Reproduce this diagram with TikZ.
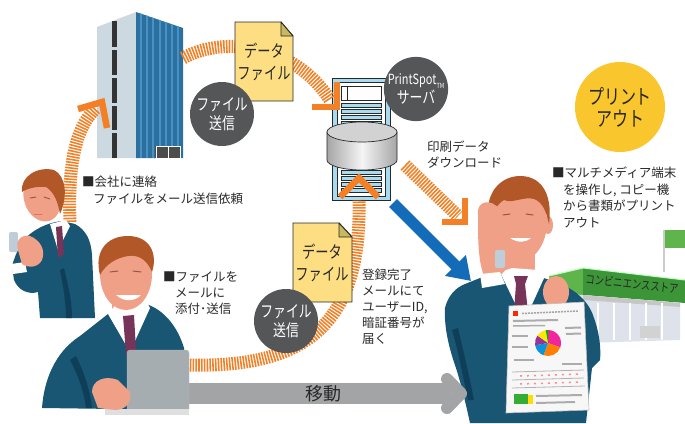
\documentclass[tikz,border=0pt]{standalone}
\usepackage{fontspec}
\newfontfamily\jp{Noto Sans CJK JP}
\newfontfamily\jpn[FakeStretch=0.78]{Noto Sans CJK JP}
\usetikzlibrary{arrows.meta}

\definecolor{orng}{RGB}{243,128,38}
\definecolor{ink}{RGB}{40,40,40}
\definecolor{bubgray}{RGB}{85,86,88}
\definecolor{sun}{RGB}{250,198,46}
\definecolor{docy}{RGB}{253,222,130}
\definecolor{fold}{RGB}{200,185,95}
\definecolor{bluearr}{RGB}{20,108,185}
\definecolor{grayarr}{RGB}{163,164,166}
\definecolor{suit}{RGB}{24,86,116}
\definecolor{suitdk}{RGB}{15,62,88}
\definecolor{skin}{RGB}{240,160,135}
\definecolor{skindk}{RGB}{215,120,95}
\definecolor{hair}{RGB}{178,88,40}
\definecolor{tie}{RGB}{118,52,88}
\definecolor{bldblue}{RGB}{44,112,160}
\definecolor{bldblue2}{RGB}{72,145,195}
\definecolor{bldlight}{RGB}{205,217,225}
\definecolor{rackblue}{RGB}{168,218,240}
\definecolor{storegreen}{RGB}{60,150,55}
\definecolor{storegreen2}{RGB}{95,180,75}
\definecolor{wall}{RGB}{222,226,234}
\definecolor{laptop}{RGB}{166,173,177}
\definecolor{phone}{RGB}{190,205,215}

\begin{document}
\begin{tikzpicture}[x=1pt,y=-1pt,
  stripe/.style={draw=orng, line width=13pt, dash pattern=on 1.6pt off 1.2pt},
  chev/.style={draw=orng, line width=6.5pt, line join=miter},
  note/.style={font=\jp\fontsize{12.5}{16}\selectfont, text=ink, align=left, inner sep=0pt, anchor=north west},
  bubble/.style={circle, fill=bubgray, text=white, minimum size=64pt, inner sep=0pt, align=center, font=\jpn\fontsize{16.5}{19}\selectfont},
  doclabel/.style={align=center, text=ink, inner sep=0pt, font=\jpn\fontsize{17}{22}\selectfont},
  docsheet/.style={fill=docy, draw=ink, line width=0.9pt, line join=miter},
  docfold/.style={fill=fold, draw=ink, line width=0.9pt, line join=round},
  rackbar/.style={fill=rackblue, draw=ink, line width=0.5pt},
  paperline/.style={draw=gray!65, line width=2pt},
]
\useasboundingbox (0,0) rectangle (685,423);

% ---------- convenience store ----------
\fill[storegreen2] (549,276) -- (583,268) -- (583,295) -- (552,293) -- cycle;
\fill[storegreen] (583,268) -- (685,280) -- (685,303) -- (583,295) -- cycle;
\draw[green!25!white, line width=1pt] (549,276) -- (583,268) -- (685,280);
\fill[wall] (552,293) -- (583,295) -- (680,303) -- (680,340) -- (552,344) -- cycle;
\fill[gray!45] (583,295) -- (680,303) -- (680,307) -- (583,300) -- cycle;
\foreach \wx in {598,614,630,646,662}
  \draw[white, line width=1.3pt] (\wx,303) -- (\wx,340);
\fill[gray!35] (640,326) rectangle (660,338);
\draw[gray!40, line width=2pt] (664,272) -- (664,230);
\fill[storegreen2] (665,229) rectangle (685,248);
\draw[white, line width=1pt] (665,229) -- (685,229);
\node[rotate=-6, font=\jpn\fontsize{12}{12}\selectfont, text=ink, inner sep=0pt] (storename) at (632,284) {コンビニエンスストア};

% ---------- man with the printout ----------
\fill[suit] (445,308) .. controls (448,296) and (455,288) .. (465,284) -- (480,278) -- (497,274) -- (512,272) -- (537,276) -- (550,280)
  .. controls (570,286) and (588,298) .. (594,318) .. controls (600,335) and (601,350) .. (600,360) -- (592,368) -- (586,423) -- (470,423)
  .. controls (465,400) and (460,380) .. (455,365) .. controls (448,345) and (444,325) .. (445,308) -- cycle;
\fill[suitdk] (452,330) .. controls (458,350) and (462,372) .. (468,400) -- (474,400) .. controls (468,370) and (462,345) .. (458,328) -- cycle;
\fill[skin] (505,250) rectangle (535,276);
\fill[white] (500,272) -- (512,268) -- (538,270) -- (545,276) -- (524,322) -- cycle;
\fill[tie] (514,276) -- (528,276) -- (525,284) -- (528,312) -- (514,312) -- (516,284) -- cycle;
\fill[skin] (548,225) ellipse [x radius=5pt, y radius=9pt];
\fill[skin] (518,222) ellipse [x radius=29pt, y radius=40pt];
\fill[hair] (490,224) .. controls (483,200) and (495,178) .. (518,176) .. controls (540,175) and (553,192) .. (549,224)
  .. controls (546,210) and (542,202) .. (534,199) .. controls (524,196) and (512,204) .. (504,200) .. controls (497,204) and (493,212) .. (490,224) -- cycle;
\draw[skindk!70!black, line width=1pt, line cap=round] (503,215) -- (510,214) (526,214) -- (533,215);
\fill[white] (510,238) .. controls (518,243) and (525,243) .. (531,238) -- cycle;
\fill[phone, rounded corners=2pt] (480,212) rectangle (489,234);
\fill[skin] (478,215) .. controls (476,200) and (492,198) .. (500,210) -- (508,240) .. controls (512,258) and (508,272) .. (498,276)
  -- (484,276) .. controls (478,260) and (478,240) .. (478,215) -- cycle;
\fill[phone, rounded corners=2pt] (495,250) rectangle (505,268);
\fill[white] (480,274) -- (500,272) -- (505,284) -- (482,288) -- cycle;
\fill[skin] (556,292) ellipse [x radius=13pt, y radius=16pt];
% printout sheet
\filldraw[fill=gray!6, draw=gray!50, line width=0.6pt] (509,306) -- (584,302) -- (589,410) -- (506,413) -- cycle;
\fill[red!70!orange] (513,311) rectangle (518,316);
\draw[gray!70, line width=1.5pt, dash pattern=on 2pt off 1pt] (522,313.5) -- (578,311);
\draw[paperline] (513,321) -- (558,320);
\draw[paperline, line width=1.5pt] (513,326) -- (545,325.5);
\draw[paperline] (512,336) -- (528,336) (512,347) -- (528,347);
\fill[magenta!85] (548,343) -- ++(90:13pt) arc[start angle=90, end angle=-20, radius=13pt] -- cycle;
\fill[orange] (548,343) -- ++(-20:13pt) arc[start angle=-20, end angle=-110, radius=13pt] -- cycle;
\fill[cyan!80!blue] (548,343) -- ++(-110:13pt) arc[start angle=-110, end angle=-170, radius=13pt] -- cycle;
\fill[violet!80] (548,343) -- ++(-170:13pt) arc[start angle=-170, end angle=-215, radius=13pt] -- cycle;
\fill[yellow!90!orange] (548,343) -- ++(-215:13pt) arc[start angle=-215, end angle=-260, radius=13pt] -- cycle;
\fill[green!70!black] (548,343) -- ++(-260:13pt) arc[start angle=-260, end angle=-270, radius=13pt] -- cycle;
\draw[paperline] (565,328) -- (581,327.5) (566,334) -- (581,333.5);
\draw[paperline] (514,360) -- (534,360) (562,364) -- (582,364);
\draw[gray!60, line width=0.8pt] (512,372) -- (584,370) (512,380) -- (584,378) (512,388) -- (585,386);
\draw[red!45, line width=1.5pt, dash pattern=on 2pt off 5pt] (520,376) -- (582,374) (520,384) -- (582,382);
\fill[green!60!black!80] (514,394) rectangle (528,404);
\fill[yellow!80!orange] (528,395) rectangle (533,404);
\draw[paperline] (536,396) -- (582,395) (536,403) -- (575,402);

% ---------- office building ----------
\fill[bldlight] (97,27) -- (136,12) -- (136,158) -- (97,158) -- cycle;
\fill[bldblue] (136,12) -- (183,28) -- (183,158) -- (136,158) -- cycle;
\begin{scope}
  \clip (136,12) -- (183,28) -- (183,158) -- (136,158) -- cycle;
  \foreach \bx in {141,147,153,160,166,172,178}
    \draw[bldblue2, line width=1.3pt] (\bx,0) -- (\bx,158);
\end{scope}
\foreach \ya/\yb in {21/47,50/75,78/103,106/130,133/158}
  \fill[black!80] (112,\ya) rectangle (117,\yb);
\fill[black!70] (155,146) rectangle (181,158);
\draw[white, line width=1pt] (156,146) rectangle (168,158) (168,146) rectangle (180,158);

% ---------- print server ----------
\path[fill=rackblue, draw=ink, line width=0.8pt] (332,78) rectangle (390,200);
\path[fill=white, draw=ink, line width=0.6pt] (337,82) rectangle (385,196);
\draw[ink, line width=0.5pt] (341,86) rectangle (381,100) (347,86) -- (347,100);
\foreach \ry in {103,109,115,121}
  \path[rackbar] (341,\ry) rectangle (381,\ry+4);
\foreach \ry in {170,176,182,188}
  \path[rackbar] (341,\ry) rectangle (381,\ry+4);
\path[left color=gray!70, right color=gray!70, middle color=gray!8, draw=ink, line width=0.7pt]
  (327,132) -- (327,160) arc[start angle=180, end angle=360, x radius=35pt, y radius=10pt] -- (397,132) -- cycle;
\path[fill=gray!35, draw=ink, line width=0.7pt] (362,132) ellipse [x radius=35pt, y radius=10pt];

% ---------- striped transfer paths ----------
\coordinate (callStart) at (70,222);
\coordinate (bldgIn) at (96,108);
\coordinate (bldgOut) at (183,58);
\coordinate (srvIn) at (330,100);
\coordinate (pcOut) at (187,365);
\coordinate (srvUp) at (359,200);
\coordinate (srvDown) at (405,165);
\coordinate (userIn) at (458,216);

\draw[stripe] (callStart) .. controls (68,165) and (75,128) .. (bldgIn);
\draw[stripe] (bldgOut) .. controls (225,35) and (295,45) .. (srvIn);
\draw[stripe] (pcOut) .. controls (300,368) and (362,330) .. (srvUp);
\draw[stripe] (srvDown) -- (userIn);

\draw[chev] (78,109) -- (102,102) -- (107,128);
\draw[chev] (312,107) -- (337,107) -- (337,82);
\draw[chev] (340,197) -- (359,178) -- (378,197);
\draw[chev] (442,222) -- (465,222) -- (465,198);

% ---------- data files ----------
\path[docsheet] (235,22) -- (281,22) -- (293,36) -- (293,101) -- (235,101) -- cycle;
\path[docfold] (281,22) -- (293,36) -- (281,36) -- cycle;
\node[doclabel] (doc1) at (264,62) {データ\\ファイル};

\path[docsheet] (293,223) -- (339,223) -- (352,237) -- (352,302) -- (293,302) -- cycle;
\path[docfold] (339,223) -- (352,237) -- (339,237) -- cycle;
\node[doclabel] (doc2) at (322,263) {データ\\ファイル};

% ---------- round labels ----------
\node[bubble] (send1) at (222,114) {ファイル\\送信};
\node[bubble] (send2) at (286,321) {ファイル\\送信};
\node[bubble] (srv) at (416,89) {{\fontsize{14}{16}\selectfont PrintSpot\raisebox{-4pt}{\fontsize{7}{7}\selectfont TM}}\\サーバ};
\node[circle, fill=sun, minimum size=90pt, inner sep=0pt, align=center, text=ink,
      font=\jpn\fontsize{20.5}{22}\selectfont] (printout) at (620,107) {プリント\\アウト};

% ---------- man on the phone ----------
\fill[suit] (30,234) .. controls (40,226) and (52,222) .. (62,221) -- (75,224) .. controls (86,230) and (91,240) .. (92,255)
  -- (95,318) -- (40,318) -- (38,292) .. controls (28,295) and (18,290) .. (14,280) -- (12,266) .. controls (16,252) and (22,240) .. (30,234) -- cycle;
\fill[suitdk] (60,270) .. controls (64,290) and (66,305) .. (66,318) -- (72,318) .. controls (72,300) and (68,285) .. (64,268) -- cycle;
\fill[white] (50,224) -- (66,220) -- (70,226) -- (58,250) -- cycle;
\fill[tie] (56,227) -- (62,226) -- (64,254) -- (58,258) -- cycle;
\fill[white] (11,264) -- (25,262) -- (27,272) -- (13,274) -- cycle;
\fill[phone, rounded corners=2pt] (9,232) rectangle (18,252);
\fill[skin] (18,250) .. controls (15,240) and (22,234) .. (30,236) .. controls (40,240) and (46,250) .. (42,260)
  .. controls (38,268) and (28,268) .. (22,264) -- cycle;
\fill[skin, rotate around={18:(42,198)}] (42,198) ellipse [x radius=18pt, y radius=24pt];
\fill[hair] (22,192) .. controls (20,176) and (38,166) .. (54,170) .. controls (66,176) and (68,196) .. (60,214)
  .. controls (58,202) and (54,192) .. (46,187) .. controls (38,186) and (28,188) .. (22,192) -- cycle;
\draw[skindk!70!black, line width=0.9pt, line cap=round] (30,198) -- (36,197) (44,197) -- (50,199);
\draw[skindk, line width=0.9pt, line cap=round] (34,214) -- (42,214);

% ---------- move arrow ----------
\coordinate (moveStart) at (188,393.5);
\coordinate (moveEnd) at (452,393.5);
\draw[grayarr, line width=21pt] (moveStart) -- (moveEnd);
\draw[grayarr, line width=12pt, line cap=round, line join=round] (447,379) -- (461,393.5) -- (447,408);
\node[font=\jp\fontsize{18}{20}\selectfont, text=ink, inner sep=0pt] (move) at (323,394) {移動};

% ---------- man at the laptop ----------
\fill[suit] (42,408) .. controls (44,380) and (55,352) .. (80,336) -- (108,314) -- (128,306) -- (146,304)
  .. controls (165,310) and (178,328) .. (184,348) -- (188,410) -- cycle;
\fill[suitdk] (70,360) .. controls (78,375) and (84,392) .. (86,408) -- (92,408) .. controls (90,390) and (84,372) .. (76,356) -- cycle;
\fill[skin] (112,290) rectangle (142,312);
\fill[white] (108,314) -- (118,302) -- (146,300) -- (150,308) -- (130,352) -- cycle;
\fill[tie] (123,316) -- (134,315) -- (136,350) -- (126,354) -- cycle;
\fill[skin] (126,274) ellipse [x radius=26pt, y radius=36pt];
\fill[hair] (100,275) .. controls (94,252) and (106,236) .. (128,236) .. controls (150,236) and (158,254) .. (152,272)
  .. controls (148,262) and (140,254) .. (128,256) .. controls (116,258) and (106,264) .. (100,275) -- cycle;
\draw[skindk!70!black, line width=1pt, line cap=round] (110,272) -- (118,271) (133,271) -- (141,272);
\fill[white] (116,295) .. controls (124,302) and (134,302) .. (141,295) -- cycle;
\filldraw[fill=laptop, draw=gray!60, rounded corners=3pt] (127,350) rectangle (189,412);
\fill[gray!25] (105,409) rectangle (189,415);
\fill[skin] (92,392) .. controls (92,380) and (105,375) .. (118,380) -- (130,392) .. controls (132,402) and (126,410) .. (115,410) -- (98,408) -- cycle;

% ---------- download arrow ----------
\coordinate (dlStart) at (393,203);
\coordinate (dlEnd) at (471,281);
\draw[draw=bluearr, line width=11pt, -{Triangle[length=22pt,width=28pt]}] (dlStart) -- (dlEnd);

% ---------- captions ----------
\node[note, font=\jp\fontsize{12.5}{17}\selectfont] (callNote) at (82,176) {■会社に連絡\\\hspace*{11pt}ファイルをメール送信依頼};
\node[note] (sendNote) at (163,271) {■ファイルを\\\hspace*{12pt}メールに\\\hspace*{12pt}添付･送信};
\node[note] (regNote) at (362,269) {登録完了\\メールにて\\ユーザーID,\\暗証番号が\\届く};
\node[note, font=\jp\fontsize{12.5}{16.5}\selectfont] (termNote) at (552,167) {■マルチメディア端末\\\hspace*{11pt}を操作し, コピー機\\\hspace*{11pt}から書類がプリント\\\hspace*{11pt}アウト};
\node[note] (dlNote) at (427,141) {印刷データ\\ダウンロード};
\end{tikzpicture}
\end{document}
